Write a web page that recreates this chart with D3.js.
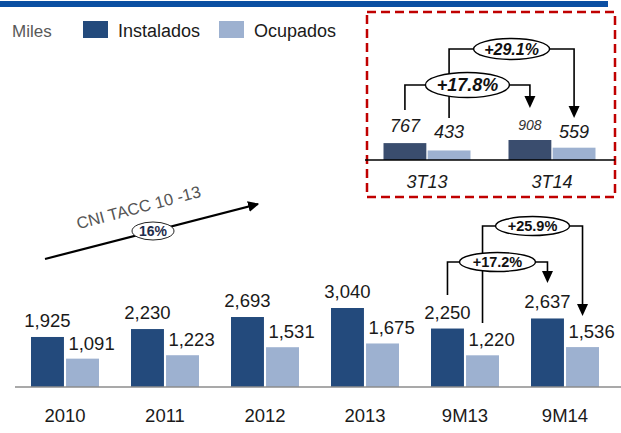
<!DOCTYPE html>
<html>
<head>
<meta charset="utf-8">
<script src="https://cdn.jsdelivr.net/npm/d3@7"></script>
<style>
  body { margin: 0; background: #fff; }
  text { font-family: "Liberation Sans", Arial, sans-serif; }
</style>
</head>
<body>
<script>
// main chart data (miles)
var categories = ["2010", "2011", "2012", "2013", "9M13", "9M14"];
var instalados = [1925, 2230, 2693, 3040, 2250, 2637];
var ocupados = [1091, 1223, 1531, 1675, 1220, 1536];
var series = ["Instalados", "Ocupados"];

// inset (quarter) data
var insetCats = ["3T13", "3T14"];
var insetInst = [767, 908];
var insetOcup = [433, 559];

var colors = ["#234a7c", "#9db1d0"];
var insetColors = ["#3a4d6e", "#9db1d0"];

var width = 621, height = 433;

var svg = d3.select("body").append("svg")
    .attr("width", width)
    .attr("height", height);

var defs = svg.append("defs");
defs.append("marker")
    .attr("id", "arrow")
    .attr("viewBox", "0 0 10 10")
    .attr("refX", 9).attr("refY", 5)
    .attr("markerUnits", "userSpaceOnUse")
    .attr("markerWidth", 11).attr("markerHeight", 11)
    .attr("orient", "auto")
  .append("path")
    .attr("d", "M0,0 L10,5 L0,10 Z")
    .attr("fill", "#000");

// top blue strip
svg.append("rect")
    .attr("x", 0).attr("y", 1)
    .attr("width", 608).attr("height", 6)
    .attr("fill", "#0b4fa2");

// legend
svg.append("text").attr("x", 12).attr("y", 37)
    .attr("font-size", 17).attr("fill", "#595959").text("Miles");
var legX = [83, 219];
series.forEach(function(s, i) {
  svg.append("rect").attr("x", legX[i]).attr("y", 21)
      .attr("width", 25).attr("height", 17).attr("fill", colors[i]);
  svg.append("text").attr("x", legX[i] + 35).attr("y", 37)
      .attr("font-size", 18).attr("fill", "#1a1a1a").text(s);
});

// ---- main chart ----
var x = d3.scaleBand()
    .domain(categories)
    .range([15, 615])
    .paddingInner(0.32)
    .paddingOuter(0.16);
var xs = d3.scaleBand()
    .domain(series)
    .range([0, x.bandwidth()])
    .paddingInner(0.06);
var y = d3.scaleLinear()
    .domain([0, 3040])
    .range([387, 308]);

var rows = categories.map(function(c, i) {
  return {cat: c, vals: [instalados[i], ocupados[i]]};
});

var groups = svg.selectAll("g.grp")
    .data(rows)
  .enter().append("g")
    .attr("class", "grp")
    .attr("transform", function(d) { return "translate(" + x(d.cat) + ",0)"; });

groups.selectAll("rect")
    .data(function(d) { return d.vals.map(function(v, i) { return {s: series[i], v: v, i: i}; }); })
  .enter().append("rect")
    .attr("x", function(d) { return xs(d.s); })
    .attr("y", function(d) { return y(d.v); })
    .attr("width", xs.bandwidth())
    .attr("height", function(d) { return y(0) - y(d.v); })
    .attr("fill", function(d) { return colors[d.i]; });

groups.selectAll("text.val")
    .data(function(d) { return d.vals.map(function(v, i) { return {s: series[i], v: v, i: i}; }); })
  .enter().append("text")
    .attr("class", "val")
    .attr("x", function(d) { return xs(d.s) + xs.bandwidth() / 2 + (d.i ? 9 : 0); })
    .attr("y", function(d) { return y(d.v) - (d.i ? 9 : 10); })
    .attr("text-anchor", "middle")
    .attr("font-size", 18.5)
    .attr("fill", "#1a1a1a")
    .text(function(d) { return d3.format(",")(d.v); });

// x axis
svg.append("line")
    .attr("x1", 15).attr("x2", 621)
    .attr("y1", y(0)).attr("y2", y(0))
    .attr("stroke", "#8c8c8c").attr("stroke-width", 1.5);
svg.selectAll("text.cat")
    .data(categories)
  .enter().append("text")
    .attr("class", "cat")
    .attr("x", function(d) { return x(d) + x.bandwidth() / 2; })
    .attr("y", 422)
    .attr("text-anchor", "middle")
    .attr("font-size", 18.5)
    .attr("fill", "#1a1a1a")
    .text(function(d) { return d; });

// growth annotation helper
function bracket(xl, yl, xr, yArrow, yRow, label, rx, ry, opts) {
  var g = svg.append("g");
  var cx = (xl + xr) / 2;
  g.append("path")
      .attr("d", "M" + xl + "," + yl + " V" + yRow + " H" + xr + " V" + (yArrow - 11))
      .attr("fill", "none").attr("stroke", "#000").attr("stroke-width", 1.6);
  g.append("path")
      .attr("d", "M" + (xr - 5.5) + "," + (yArrow - 12) + " L" + (xr + 5.5) + "," + (yArrow - 12) +
            " L" + xr + "," + yArrow + " Z")
      .attr("fill", "#000");
  g.append("ellipse")
      .attr("cx", cx).attr("cy", yRow).attr("rx", rx).attr("ry", ry)
      .attr("fill", "#fff").attr("stroke", "#000").attr("stroke-width", 1.4);
  g.append("text")
      .attr("x", cx).attr("y", yRow + opts.size * 0.36)
      .attr("text-anchor", "middle")
      .attr("font-size", opts.size)
      .attr("font-weight", "bold")
      .attr("font-style", opts.italic ? "italic" : "normal")
      .attr("fill", "#111")
      .text(label);
}

var cInst = function(c) { return x(c) + xs("Instalados") + xs.bandwidth() / 2; };
var cOcup = function(c) { return x(c) + xs("Ocupados") + xs.bandwidth() / 2; };

// +25.9% (Ocupados 9M13 -> 9M14), drawn first so the inner vertical passes under the 17.2% oval
bracket(cOcup("9M13"), 323, cOcup("9M14"), 316, 226, "+25.9%", 37, 9.5, {size: 14.5});
bracket(cInst("9M13"), 295, cInst("9M14"), 283, 262, "+17.2%", 38, 9.5, {size: 14.5});

// CAGR arrow
svg.append("line")
    .attr("x1", 45).attr("y1", 259)
    .attr("x2", 258).attr("y2", 204)
    .attr("stroke", "#000").attr("stroke-width", 2.2)
    .attr("marker-end", "url(#arrow)");
svg.append("ellipse")
    .attr("cx", 153).attr("cy", 231).attr("rx", 21).attr("ry", 9)
    .attr("fill", "#fff").attr("stroke", "#222").attr("stroke-width", 1);
svg.append("text")
    .attr("x", 153).attr("y", 236)
    .attr("text-anchor", "middle")
    .attr("font-size", 14).attr("font-weight", "bold")
    .attr("fill", "#1f2d4d")
    .text("16%");
svg.append("text")
    .attr("transform", "translate(140,213) rotate(-14.8)")
    .attr("text-anchor", "middle")
    .attr("font-size", 16.5)
    .attr("fill", "#555")
    .text("CNI TACC 10 -13");

// ---- inset ----
svg.append("rect")
    .attr("x", 367).attr("y", 12)
    .attr("width", 248).attr("height", 185)
    .attr("fill", "none")
    .attr("stroke", "#c00000").attr("stroke-width", 2.5)
    .attr("stroke-dasharray", "9,5");

var ix = d3.scaleBand()
    .domain(insetCats)
    .range([362, 617])
    .paddingInner(0.304)
    .paddingOuter(0.172);
var ixs = d3.scaleBand()
    .domain(series)
    .range([0, ix.bandwidth()])
    .paddingInner(0.03);
var iy = d3.scaleLinear()
    .domain([0, 908])
    .range([160, 140]);

var irows = insetCats.map(function(c, i) {
  return {cat: c, vals: [insetInst[i], insetOcup[i]]};
});
var igroups = svg.selectAll("g.igrp")
    .data(irows)
  .enter().append("g")
    .attr("class", "igrp")
    .attr("transform", function(d) { return "translate(" + ix(d.cat) + ",0)"; });

igroups.selectAll("rect")
    .data(function(d) { return d.vals.map(function(v, i) { return {s: series[i], v: v, i: i, cat: d.cat}; }); })
  .enter().append("rect")
    .attr("x", function(d) { return ixs(d.s); })
    .attr("y", function(d) { return iy(d.v); })
    .attr("width", ixs.bandwidth())
    .attr("height", function(d) { return iy(0) - iy(d.v); })
    .attr("fill", function(d) { return insetColors[d.i]; });

igroups.selectAll("text.val")
    .data(function(d) { return d.vals.map(function(v, i) { return {s: series[i], v: v, i: i, cat: d.cat}; }); })
  .enter().append("text")
    .attr("class", "val")
    .attr("x", function(d) { return ixs(d.s) + ixs.bandwidth() / 2; })
    .attr("y", function(d) {
      if (d.cat === "3T14" && d.i === 0) return 130;
      return d.i ? 138 : 132;
    })
    .attr("text-anchor", "middle")
    .attr("font-size", function(d) { return (d.cat === "3T14" && d.i === 0) ? 14 : 18; })
    .attr("font-style", "italic")
    .attr("fill", function(d) { return (d.cat === "3T14" && d.i === 0) ? "#333" : "#1a1a1a"; })
    .text(function(d) { return d3.format(",")(d.v); });

svg.append("line")
    .attr("x1", 365).attr("x2", 615)
    .attr("y1", iy(0)).attr("y2", iy(0))
    .attr("stroke", "#000").attr("stroke-width", 1.5);

svg.selectAll("text.icat")
    .data(insetCats)
  .enter().append("text")
    .attr("class", "icat")
    .attr("x", function(d) { return ix(d) + ix.bandwidth() / 2; })
    .attr("y", 188)
    .attr("text-anchor", "middle")
    .attr("font-size", 18)
    .attr("font-style", "italic")
    .attr("fill", "#1a1a1a")
    .text(function(d) { return d; });

var icInst = function(c) { return ix(c) + ixs("Instalados") + ixs.bandwidth() / 2; };
var icOcup = function(c) { return ix(c) + ixs("Ocupados") + ixs.bandwidth() / 2; };

bracket(icOcup("3T13"), 118, icOcup("3T14"), 118, 49, "+29.1%", 38, 10.5, {size: 16, italic: true});
bracket(icInst("3T13"), 110, icInst("3T14"), 108, 85, "+17.8%", 42, 12.5, {size: 18, italic: true});
</script>
</body>
</html>
